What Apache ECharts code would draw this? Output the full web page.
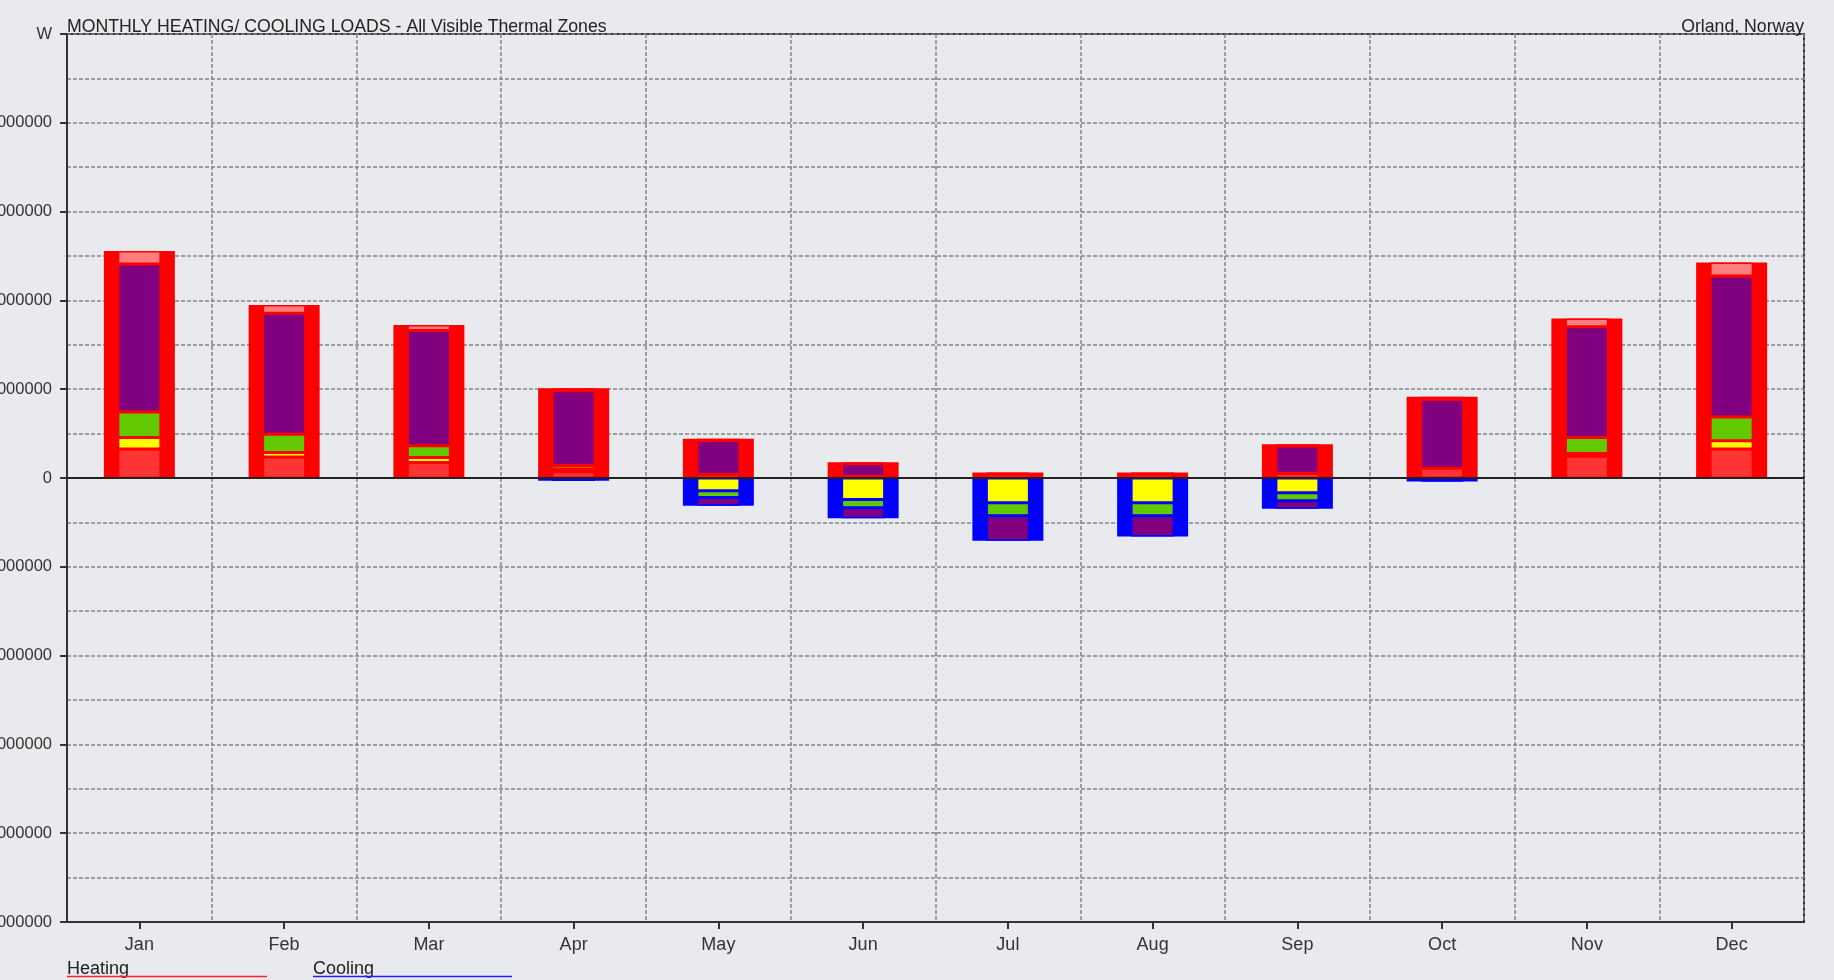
<!DOCTYPE html>
<html>
<head>
<meta charset="utf-8">
<script src="https://cdn.jsdelivr.net/npm/echarts@6/dist/echarts.min.js"></script>
<style>
  html, body { margin: 0; padding: 0; background: #e8eaed; }
  #chart { width: 1834px; height: 980px; }
</style>
</head>
<body>
<div id="chart"></div>
<script>
// ---- Data (W) ----
const months = ['Jan', 'Feb', 'Mar', 'Apr', 'May', 'Jun', 'Jul', 'Aug', 'Sep', 'Oct', 'Nov', 'Dec'];

const yMin = -5000000;
const yMax = 5000000;
const yStep = 1000000;

// Outer bars: total heating (+) and cooling (-) loads
const heatingTotal = [2556000, 1948000, 1723000, 1011000, 441000, 178000, 62000, 62000, 381000, 916000, 1797000, 2428000];
const coolingTotal = [-3000, -3000, -10000, -30000, -313000, -453000, -707000, -659000, -347000, -40000, -6000, -4000];

// Inner breakdown of heating (stacked upwards from zero); null = no component
const heatLightRed = [327000, 236000, 175000, 70000, 40000, 20000, 40000, 40000, 50000, 110000, 245000, 327000];
const heatYellow   = [130000, 52000, 56000, 30000, null, null, null, null, null, null, 30000, 93000];
const heatGreen    = [285000, 205000, 133000, 40000, null, null, null, null, null, null, 181000, 267000];
const heatPurple   = [1669000, 1361000, 1298000, 843000, 380000, 140000, null, null, 311000, 774000, 1248000, 1589000];
const heatPink     = [145000, 94000, 61000, 28000, 21000, 18000, 22000, 22000, 20000, 32000, 93000, 152000];

// Inner breakdown of cooling (stacked downwards from zero); null = no component
const coolYellow = [null, null, null, -15000, -144000, -242000, -278000, -278000, -165000, -20000, null, null];
const coolGreen  = [null, null, null, -8000, -76000, -92000, -148000, -147000, -90000, -10000, null, null];
const coolPurple = [null, null, null, -7000, -93000, -119000, -281000, -234000, -92000, -10000, null, null];

// ---- Chart ----
const FONT = '"Liberation Sans", Arial, Helvetica, sans-serif';
const gridLine = { color: '#858585', width: 1.5, type: [4, 2] };

function inner(name, data, color, border) {
  return {
    type: 'bar', name: name, xAxisIndex: 1, stack: 'inner', barWidth: 43, z: 3,
    data: data,
    itemStyle: { color: color, borderColor: border, borderWidth: 1.5 }
  };
}

const chart = echarts.init(document.getElementById('chart'), null, { renderer: 'canvas' });

const series = [
  { type: 'bar', name: 'Heating', xAxisIndex: 0, stack: 'outer', barWidth: 71, z: 2,
    data: heatingTotal, itemStyle: { color: '#ff0000' } },
  { type: 'bar', name: 'Cooling', xAxisIndex: 0, stack: 'outer', barWidth: 71, z: 2,
    data: coolingTotal, itemStyle: { color: '#0000ff' } },
  inner('Heating 1', heatLightRed, '#ff3535', '#ff0000'),
  inner('Heating 2', heatYellow, '#ffff00', '#ff0000'),
  inner('Heating 3', heatGreen, '#62c800', '#ff0000'),
  inner('Heating 4', heatPurple, '#800080', '#ff0000'),
  inner('Heating 5', heatPink, '#ff7f7f', '#ff0000'),
  inner('Cooling 1', coolYellow, '#ffff00', '#0000ff'),
  inner('Cooling 2', coolGreen, '#62c800', '#0000ff'),
  inner('Cooling 3', coolPurple, '#800080', '#0000ff')
];
series[series.length - 1].markLine = {
  silent: true, symbol: ['none', 'none'], label: { show: false },
  lineStyle: { color: '#222', width: 2, type: 'solid' },
  data: [{ yAxis: 0 }]
};

chart.setOption({
  animation: false,
  backgroundColor: '#e8eaed',
  grid: { left: 67, right: 30, top: 34, bottom: 58, containLabel: false, outerBoundsMode: 'none',
    show: true, borderColor: '#333', borderWidth: 2, backgroundColor: 'transparent' },
  xAxis: [
    {
      type: 'category', data: months, position: 'bottom',
      axisLine: { onZero: false, lineStyle: { color: '#333', width: 2 } },
      axisTick: { show: true, alignWithLabel: true, length: 7, lineStyle: { color: '#333', width: 2 } },
      axisLabel: { fontSize: 18, margin: 14, color: '#333', fontFamily: FONT },
      splitLine: { show: true, lineStyle: gridLine }
    },
    { type: 'category', data: months, show: false }
  ],
  yAxis: {
    type: 'value', min: yMin, max: yMax, interval: yStep,
    axisLine: { show: true, lineStyle: { color: '#333', width: 2 } },
    axisTick: { show: true, length: 7, lineStyle: { color: '#333', width: 2 } },
    axisLabel: { margin: 15, fontSize: 16.5, color: '#333', fontFamily: FONT, hideOverlap: false,
      formatter: function (v) { return v === yMax ? 'W' : String(v); } },
    splitLine: { show: true, lineStyle: gridLine },
    minorTick: { show: false, splitNumber: 2 },
    minorSplitLine: { show: true, lineStyle: gridLine }
  },
  graphic: [
    { type: 'text', left: 67, top: 18, z: 10,
      style: { text: 'MONTHLY HEATING/ COOLING LOADS - All Visible Thermal Zones', font: '17.7px ' + FONT, fill: '#222' } },
    { type: 'text', right: 30, top: 18, z: 10,
      style: { text: 'Orland, Norway', font: '17.7px ' + FONT, fill: '#222' } },
    { type: 'text', left: 67, top: 960, z: 10,
      style: { text: 'Heating', font: '18px ' + FONT, fill: '#222' } },
    { type: 'line', z: 10, shape: { x1: 67, y1: 976.5, x2: 267, y2: 976.5 }, style: { stroke: '#ff2020', lineWidth: 1.5 } },
    { type: 'text', left: 313, top: 960, z: 10,
      style: { text: 'Cooling', font: '18px ' + FONT, fill: '#222' } },
    { type: 'line', z: 10, shape: { x1: 313, y1: 976.5, x2: 512, y2: 976.5 }, style: { stroke: '#2020ff', lineWidth: 1.5 } }
  ],
  series: series
});
</script>
</body>
</html>
